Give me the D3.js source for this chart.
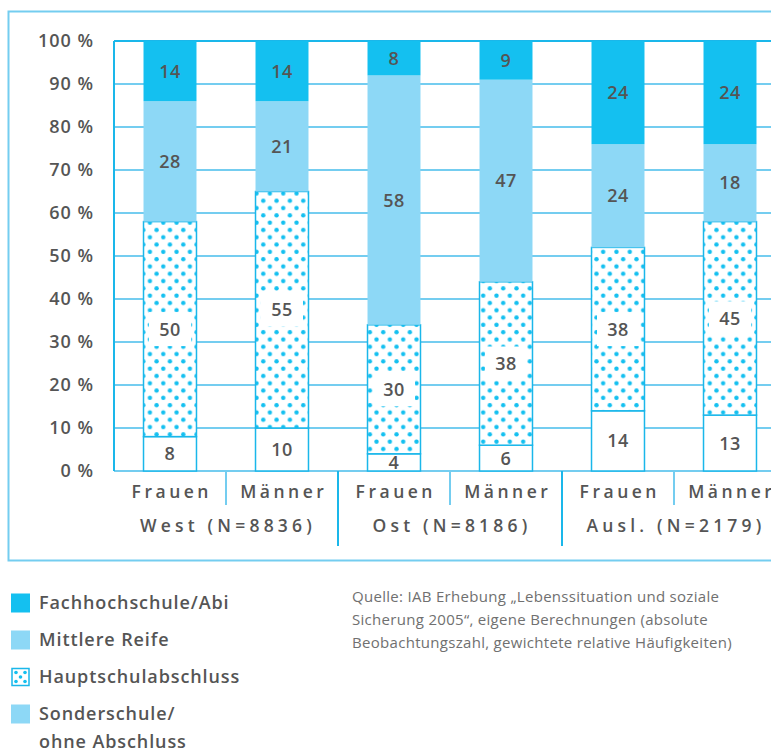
<!DOCTYPE html>
<html>
<head>
<meta charset="utf-8">
<script src="https://cdn.jsdelivr.net/npm/d3@7"></script>
<style>
  body { margin: 0; background: #fff; }
  svg { display: block; font-family: "Open Sans", Lato, sans-serif; }
</style>
</head>
<body>
<svg id="chart" width="771" height="750"></svg>
<script>
// bar order: West F, West M, Ost F, Ost M, Ausl F, Ausl M
const groups = ["West (N=8836)", "Ost (N=8186)", "Ausl. (N=2179)"];
const sexes = ["Frauen", "Männer"];
const bars = ["WF", "WM", "OF", "OM", "AF", "AM"];
const seriesNames = ["Sonderschule/ohne Abschluss", "Hauptschulabschluss", "Mittlere Reife", "Fachhochschule/Abi"];
const sonder = [8, 10, 4, 6, 14, 13];
const haupt = [50, 55, 30, 38, 38, 45];
const mittlere = [28, 21, 58, 47, 24, 18];
const fachabi = [14, 14, 8, 9, 24, 24];
const yTicks = [0, 10, 20, 30, 40, 50, 60, 70, 80, 90, 100];
const sourceLines = [
  "Quelle: IAB Erhebung „Lebenssituation und soziale",
  "Sicherung 2005“, eigene Berechnungen (absolute",
  "Beobachtungszahl, gewichtete relative Häufigkeiten)"
];

const C_DARK = "#14c0f0", C_LIGHT = "#8dd8f6", C_LINE = "#1ab7ea", C_GRID = "#74cdf0", C_TEXT = "#555";
const FONT = "'Open Sans', Lato, sans-serif";

const svg = d3.select("#chart");
const plotLeft = 114, plotTop = 41, plotBottom = 471, plotRight = 786;

// table for stacking
const table = bars.map((b, i) => ({bar: b, s0: sonder[i], s1: haupt[i], s2: mittlere[i], s3: fachabi[i]}));
const keys = ["s0", "s1", "s2", "s3"];
const stacked = d3.stack().keys(keys)(table);

const x = d3.scaleBand().domain(bars).range([plotLeft, plotRight]).paddingInner(0.527).paddingOuter(0.2635);
const xb = d3.scaleBand().domain(bars).range([plotLeft, plotRight]);
const xg = d3.scaleBand().domain(groups).range([plotLeft, plotRight]);
const y = d3.scaleLinear().domain([0, 100]).range([plotBottom, plotTop]);

// dot pattern
const defs = svg.append("defs");
const pat = defs.append("pattern").attr("id", "dots")
  .attr("patternUnits", "userSpaceOnUse").attr("width", 13.33).attr("height", 14.6);
pat.append("rect").attr("width", 13.33).attr("height", 14.6).attr("fill", "#fff");
pat.append("circle").attr("cx", 3.3).attr("cy", 3.6).attr("r", 2.2).attr("fill", C_DARK);
pat.append("circle").attr("cx", 9.97).attr("cy", 10.9).attr("r", 2.2).attr("fill", C_DARK);

// outer frame
svg.append("rect").attr("x", 8.5).attr("y", 11.5).attr("width", 800).attr("height", 549)
  .attr("fill", "none").attr("stroke", C_GRID).attr("stroke-width", 2);

// gridlines
svg.append("g").selectAll("line").data(yTicks).join("line")
  .attr("x1", plotLeft).attr("x2", plotRight)
  .attr("y1", d => y(d)).attr("y2", d => y(d))
  .attr("stroke", d => d === 100 ? C_LINE : C_GRID).attr("stroke-width", 2);

// y axis labels
const yAxis = d3.axisLeft(y).tickValues(yTicks).tickSize(0).tickPadding(20).tickFormat(d => d + " %");
svg.append("g").attr("transform", `translate(${plotLeft},0)`).call(yAxis)
  .call(g => g.select(".domain").remove())
  .selectAll("text")
  .attr("font-family", FONT).attr("font-size", 18).attr("font-weight", 600)
  .attr("fill", C_TEXT).attr("letter-spacing", 1);

// left axis line
svg.append("line").attr("x1", plotLeft).attr("x2", plotLeft).attr("y1", plotTop).attr("y2", plotBottom)
  .attr("stroke", C_LINE).attr("stroke-width", 2);

// bars
const fills = ["#fff", "url(#dots)", C_LIGHT, C_DARK];
const strokes = [C_LINE, C_LINE, "none", "none"];
stacked.forEach((layer, li) => {
  svg.append("g").selectAll("rect").data(layer).join("rect")
    .attr("x", d => x(d.data.bar))
    .attr("y", d => y(d[1]))
    .attr("width", x.bandwidth())
    .attr("height", d => y(d[0]) - y(d[1]))
    .attr("fill", fills[li])
    .attr("stroke", strokes[li]).attr("stroke-width", 1.5);
});

// labels
stacked.forEach((layer, li) => {
  const g = svg.append("g");
  if (li === 1) {
    g.selectAll("rect").data(layer).join("rect")
      .attr("x", d => x(d.data.bar) + x.bandwidth() / 2 - 21)
      .attr("y", d => (y(d[0]) + y(d[1])) / 2 - 17)
      .attr("width", 42).attr("height", 34).attr("fill", "#fff");
  }
  g.selectAll("text").data(layer).join("text")
    .attr("x", d => x(d.data.bar) + x.bandwidth() / 2)
    .attr("y", d => (y(d[0]) + y(d[1])) / 2)
    .attr("dy", "0.36em")
    .attr("text-anchor", "middle")
    .attr("font-size", 18).attr("font-weight", 600).attr("fill", C_TEXT)
    .attr("letter-spacing", 0.5)
    .text(d => d[1] - d[0]);
});

// category separators
svg.append("g").selectAll("line").data(bars.filter((b, i) => i % 2 === 1)).join("line")
  .attr("x1", d => xb(d)).attr("x2", d => xb(d)).attr("y1", plotBottom).attr("y2", 505)
  .attr("stroke", C_GRID).attr("stroke-width", 2);
svg.append("g").selectAll("line").data(groups.slice(1)).join("line")
  .attr("x1", d => xg(d)).attr("x2", d => xg(d)).attr("y1", plotBottom).attr("y2", 546)
  .attr("stroke", C_LINE).attr("stroke-width", 2);

// sex labels
svg.append("g").selectAll("text").data(bars).join("text")
  .attr("x", d => xb(d) + xb.bandwidth() / 2 + 1.8)
  .attr("y", 498)
  .attr("text-anchor", "middle")
  .attr("font-size", 17.5).attr("font-weight", 600).attr("fill", C_TEXT)
  .attr("letter-spacing", 3.5)
  .text((d, i) => sexes[i % 2]);

// group labels
svg.append("g").selectAll("text").data(groups).join("text")
  .attr("x", d => xg(d) + xg.bandwidth() / 2 + 2)
  .attr("y", 532)
  .attr("text-anchor", "middle")
  .attr("font-size", 17.5).attr("font-weight", 600).attr("fill", C_TEXT)
  .attr("letter-spacing", 4.2)
  .text(d => d);

// legend
const legendItems = [
  {label: ["Fachhochschule/Abi"], fill: C_DARK},
  {label: ["Mittlere Reife"], fill: C_LIGHT},
  {label: ["Hauptschulabschluss"], fill: "dots"},
  {label: ["Sonderschule/", "ohne Abschluss"], fill: C_LIGHT}
];
const lg = svg.append("g");
legendItems.forEach((it, i) => {
  const cy = 603 + i * 37;
  if (it.fill === "dots") {
    lg.append("rect").attr("x", 12).attr("y", cy - 8.5).attr("width", 17).attr("height", 17)
      .attr("fill", "#fff").attr("stroke", C_LINE).attr("stroke-width", 1.5);
    [[16, cy - 4.5], [25, cy - 4.5], [20.5, cy], [16, cy + 4.5], [25, cy + 4.5]].forEach(p =>
      lg.append("circle").attr("cx", p[0]).attr("cy", p[1]).attr("r", 1.8).attr("fill", C_DARK));
  } else {
    lg.append("rect").attr("x", 11).attr("y", cy - 9.5).attr("width", 19).attr("height", 19).attr("fill", it.fill);
  }
  it.label.forEach((t, j) => {
    lg.append("text").attr("x", 39).attr("y", cy + j * 28).attr("dy", "0.36em")
      .attr("font-size", 18).attr("font-weight", 600).attr("fill", C_TEXT)
      .attr("letter-spacing", 0.9).text(t);
  });
});

// source note
svg.append("g").selectAll("text").data(sourceLines).join("text")
  .attr("x", 352).attr("y", (d, i) => 597 + i * 23).attr("dy", "0.36em")
  .attr("font-size", 15).attr("fill", "#707070").attr("letter-spacing", 0.3)
  .text(d => d);
</script>
</body>
</html>
